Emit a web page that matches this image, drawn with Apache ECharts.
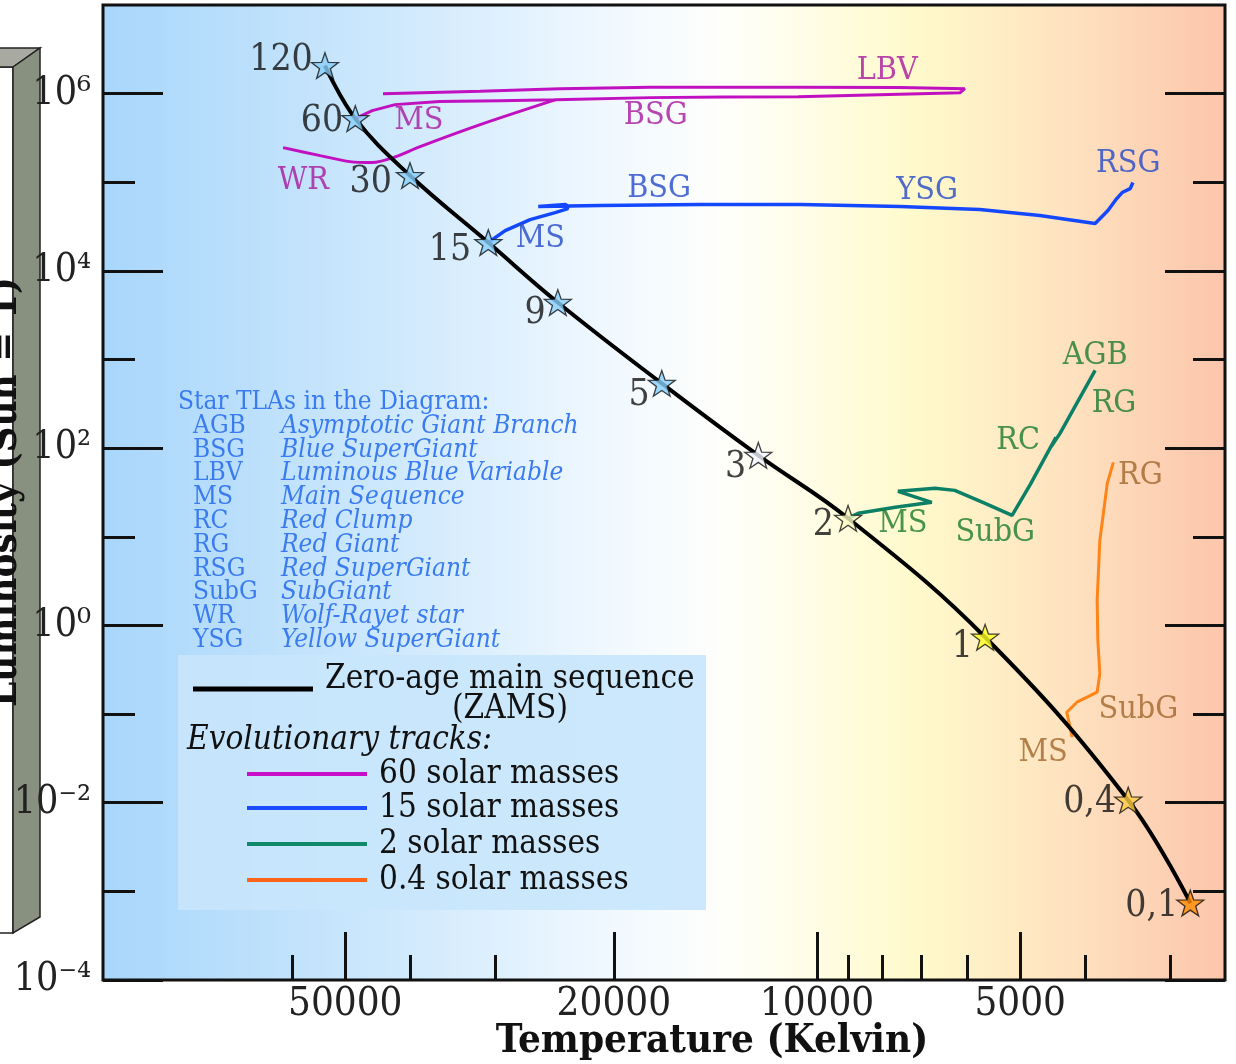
<!DOCTYPE html>
<html>
<head>
<meta charset="utf-8">
<script src="https://cdn.jsdelivr.net/npm/echarts@6/dist/echarts.min.js"></script>
<style>html,body{margin:0;padding:0;background:#fff}#c{width:1236px;height:1064px}</style>
</head>
<body>
<div id="c"></div>
<script>
// ---- data (log10 of temperature in K, log10 of luminosity in L_sun) ----
const zamsMass = ['120','60','30','15','9','5','3','2','1','0,4','0,1'];
const zamsLogT = [4.729,4.684,4.603,4.487,4.384,4.230,4.087,3.954,3.751,3.539,3.447];
const zamsLogL = [6.316,5.718,5.076,4.320,3.644,2.731,1.919,1.209,-0.133,-1.971,-3.132];

const track60LogT = [4.684,4.659,4.625,4.559,4.470,4.387,4.247,4.138,4.028,3.788,3.781,3.877,4.025,4.247,4.381,4.499,4.643];
const track60LogL = [5.718,5.808,5.876,5.910,5.921,5.932,5.955,5.961,5.966,6.011,6.056,6.068,6.073,6.073,6.056,6.028,6.000];
const track60WRLogT = [4.387,4.499,4.588,4.628,4.659,4.692,4.736,4.791];
const track60WRLogL = [5.932,5.650,5.402,5.278,5.222,5.233,5.301,5.391];

const track15LogT = [4.487,4.462,4.425,4.388,4.369,4.372,4.413,4.321,4.173,4.025,3.877,3.759,3.670,3.588,3.569,3.556,3.548,3.536,3.532];
const track15LogL = [4.320,4.455,4.579,4.658,4.703,4.749,4.726,4.737,4.749,4.749,4.726,4.692,4.625,4.534,4.681,4.816,4.884,4.929,4.997];

const track2LogT = [3.954,3.939,3.884,3.830,3.880,3.825,3.796,3.751,3.711,3.684,3.659,3.646,3.653,3.640,3.588];
const track2LogL = [1.209,1.265,1.333,1.389,1.513,1.547,1.524,1.378,1.242,1.592,1.941,2.122,2.020,2.167,2.877];

const track04LogT = [3.622,3.630,3.615,3.585,3.581,3.584,3.585,3.581,3.570,3.561];
const track04LogL = [-1.260,-0.979,-0.866,-0.753,-0.539,-0.167,0.284,0.961,1.603,1.840];

const note60Text = ['MS','BSG','LBV','WR'];
const note60LogT = [4.590,4.239,3.896,4.761];
const note60LogL = [5.696,5.752,6.259,5.019];
const note15Text = ['MS','BSG','YSG','RSG'];
const note15LogT = [4.410,4.234,3.837,3.539];
const note15LogL = [4.365,4.929,4.906,5.211];
const note2Text = ['MS','SubG','RC','RG','AGB'];
const note2LogT = [3.873,3.736,3.702,3.560,3.588];
const note2LogL = [1.152,1.051,2.088,2.505,3.046];
const note04Text = ['MS','SubG','RG'];
const note04LogT = [3.665,3.524,3.521];
const note04LogL = [-1.430,-0.945,1.693];

const tempMajorK = [50000,20000,10000,5000];
const tempMinorK = [60000,40000,30000,9000,8000,7000,6000,4000,3000];
const lumMajorExp = [-4,-2,0,2,4,6];
const lumMinorExp = [-3,-1,1,3,5];

const tlaAbbr = ['AGB','BSG','LBV','MS','RC','RG','RSG','SubG','WR','YSG'];
const tlaName = ['Asymptotic Giant Branch','Blue SuperGiant','Luminous Blue Variable','Main Sequence','Red Clump','Red Giant','Red SuperGiant','SubGiant','Wolf-Rayet star','Yellow SuperGiant'];
const legendNames = ['60 solar masses','15 solar masses','2 solar masses','0.4 solar masses'];

// ---- styles ----
const F = "'DejaVu Serif Condensed','DejaVu Serif',serif";
const starFill = ['#87cefa','#87cefa','#87cefa','#87cefa','#87cefa','#87cefa','#f2f5ff','#fafac6','#ffff22','#ffcc44','#ff8a00'];
const starLabelOffset = [[2,-5],[2,3],[-4,7],[-3,8],[2,11],[2,12],[2,12],[0,7],[2,10],[2,2],[2,3]];
const c60 = '#c010c0', c15 = '#1448ff', c2 = '#0c8066', c04 = '#ff8418';
const t60 = '#a8189e', t15 = '#2448c8', t2 = '#1a7a2c', t04 = '#a0652c';
const legendColors = ['#c80ec8','#1a4cff','#108a68','#ff6418'];

const zip = (a,b) => a.map((v,i)=>[v,b[i]]);
const log10 = Math.log10;
const supMap = {'-':'⁻','0':'⁰','1':'¹','2':'²','3':'³','4':'⁴','5':'⁵','6':'⁶','7':'⁷','8':'⁸','9':'⁹'};
const sup = n => String(n).split('').map(c=>supMap[c]).join('');

const X_MIN = 3.3956, X_MAX = 5.0578;

function xAx(values, len, labels){
  return {type:'value', inverse:true, min:X_MIN, max:X_MAX, position:'bottom',
    axisLine:{show:false, onZero:false}, splitLine:{show:false},
    axisTick:{show:true, inside:true, length:len, customValues:values.map(log10), lineStyle:{color:'#111',width:3}},
    axisLabel:{show:labels, customValues:values.map(log10), margin:5,
      formatter:v=>String(Math.round(Math.pow(10,v))), fontFamily:F, fontSize:40, color:'#222'}};
}
function yAx(values, len, labels, pos){
  return {type:'value', min:-4, max:7, position:pos,
    axisLine:{show:false, onZero:false}, splitLine:{show:false},
    axisTick:{show:true, inside:true, length:len, customValues:values, lineStyle:{color:'#111',width:3}},
    axisLabel:{show:labels, customValues:values, margin:12,
      formatter:v=>'10'+sup(v), fontFamily:F, fontSize:39, color:'#222'}};
}

function lineSeries(tx, ty, color, width, smooth){
  return {type:'line', data:zip(tx,ty), symbol:'none', smooth:smooth||false,
    lineStyle:{color:color, width:width}, z:3, silent:true};
}
function noteSeries(txt, tx, ty, color){
  return {type:'scatter', symbolSize:0, z:6, silent:true,
    data:tx.map((v,i)=>({value:[v,ty[i]], name:txt[i]})),
    label:{show:true, position:'inside', formatter:'{b}', fontFamily:F, fontSize:32, color:color}};
}

const starPath = 'path://M0,-10 L2.351,-3.236 L9.511,-3.09 L3.804,1.236 L5.878,8.09 L0,4 L-5.878,8.09 L-3.804,1.236 L-9.511,-3.09 L-2.351,-3.236 Z';

const graphics = [];
// 3D gray bar at left
graphics.push({type:'polygon', z:-5, shape:{points:[[-5,67],[13,67],[13,933],[-5,933]]}, style:{fill:'#ffffff', stroke:'#222', lineWidth:1.5}});
graphics.push({type:'polygon', z:-5, shape:{points:[[-5,48],[40,48],[13,67],[-5,67]]}, style:{fill:'#a8aaa2', stroke:'#222', lineWidth:1.5}});
graphics.push({type:'polygon', z:-5, shape:{points:[[13,67],[40,48],[40,917],[13,933]]}, style:{fill:'#889080', stroke:'#222', lineWidth:1.5}});
// axis names
graphics.push({type:'text', z:10, x:712, y:1042, style:{text:'Temperature (Kelvin)', font:"bold 40px "+F, fill:'#111', align:'center', verticalAlign:'middle'}});
graphics.push({type:'text', z:10, x:6, y:492, rotation:Math.PI/2, style:{text:'Luminosity (Sun = 1)', font:"bold 40px "+F, fill:'#111', align:'center', verticalAlign:'middle'}});
// TLA list
graphics.push({type:'text', z:10, x:178, y:402, style:{text:'Star TLAs in the Diagram:', font:"26px "+F, fill:'#3a7cf0', verticalAlign:'middle'}});
tlaAbbr.forEach((a,i)=>{
  const y = 426 + i*23.8;
  graphics.push({type:'text', z:10, x:193, y:y, style:{text:a, font:"26px "+F, fill:'#3a7cf0', verticalAlign:'middle'}});
  graphics.push({type:'text', z:10, x:281, y:y, style:{text:tlaName[i], font:"italic 26px "+F, fill:'#3a7cf0', verticalAlign:'middle'}});
});
// legend box
graphics.push({type:'rect', z:8, shape:{x:178,y:655,width:528,height:255}, style:{fill:'rgba(200,230,252,0.9)'}});
graphics.push({type:'line', z:10, shape:{x1:193,y1:689,x2:313,y2:689}, style:{stroke:'#000', lineWidth:5}});
graphics.push({type:'text', z:10, x:325, y:679, style:{text:'Zero-age main sequence', font:"33px "+F, fill:'#111', verticalAlign:'middle'}});
graphics.push({type:'text', z:10, x:510, y:709, style:{text:'(ZAMS)', font:"33px "+F, fill:'#111', align:'center', verticalAlign:'middle'}});
graphics.push({type:'text', z:10, x:187, y:740, style:{text:'Evolutionary tracks:', font:"italic 33px "+F, fill:'#111', verticalAlign:'middle'}});
legendNames.forEach((n,i)=>{
  const y = [774,808,844,880][i];
  graphics.push({type:'line', z:10, shape:{x1:247,y1:y,x2:367,y2:y}, style:{stroke:legendColors[i], lineWidth:4}});
  graphics.push({type:'text', z:10, x:379, y:y, style:{text:n, font:"33px "+F, fill:'#111', verticalAlign:'middle'}});
});

const option = {
  animation:false,
  backgroundColor:'#ffffff',
  grid:{left:103, right:11, top:5, bottom:84, show:true, borderColor:'#111', borderWidth:3,
    backgroundColor:new echarts.graphic.LinearGradient(0,0,1,0,[
      {offset:0,color:'#a8d6fb'},{offset:0.25,color:'#cde8fc'},{offset:0.45,color:'#f0f8ff'},
      {offset:0.56,color:'#fffffa'},{offset:0.72,color:'#fffacc'},{offset:0.86,color:'#fee2bf'},{offset:1,color:'#fcc5ab'}])},
  xAxis:[xAx(tempMajorK,48,true), xAx(tempMinorK,25,false)],
  yAxis:[yAx(lumMajorExp,60,true,'left'), yAx(lumMinorExp,32,false,'left'), yAx(lumMajorExp,60,false,'right'), yAx(lumMinorExp,32,false,'right')],
  graphic:graphics,
  series:[
    lineSeries(track60LogT, track60LogL, c60, 3),
    lineSeries(track60WRLogT, track60WRLogL, c60, 3, 0.3),
    lineSeries(track15LogT, track15LogL, c15, 3.5),
    lineSeries(track2LogT, track2LogL, c2, 3.5),
    lineSeries(track04LogT, track04LogL, c04, 3),
    lineSeries(zamsLogT, zamsLogL, '#000', 4, 0.4),
    {type:'scatter', z:5, silent:true, symbol:starPath, symbolSize:27, symbolKeepAspect:true,
      data:zamsLogT.map((v,i)=>({value:[v,zamsLogL[i]], name:zamsMass[i],
        itemStyle:{color:starFill[i]},
        label:{offset:starLabelOffset[i]}})),
      itemStyle:{borderColor:'#111', borderWidth:1.3},
      label:{show:true, position:'left', distance:0, formatter:'{b}', fontFamily:F, fontSize:37, color:'#111'}},
    noteSeries(note60Text, note60LogT, note60LogL, t60),
    noteSeries(note15Text, note15LogT, note15LogL, t15),
    noteSeries(note2Text, note2LogT, note2LogL, t2),
    noteSeries(note04Text, note04LogT, note04LogL, t04)
  ]
};
echarts.init(document.getElementById('c'), null, {renderer:'canvas'}).setOption(option);
</script>
</body>
</html>
